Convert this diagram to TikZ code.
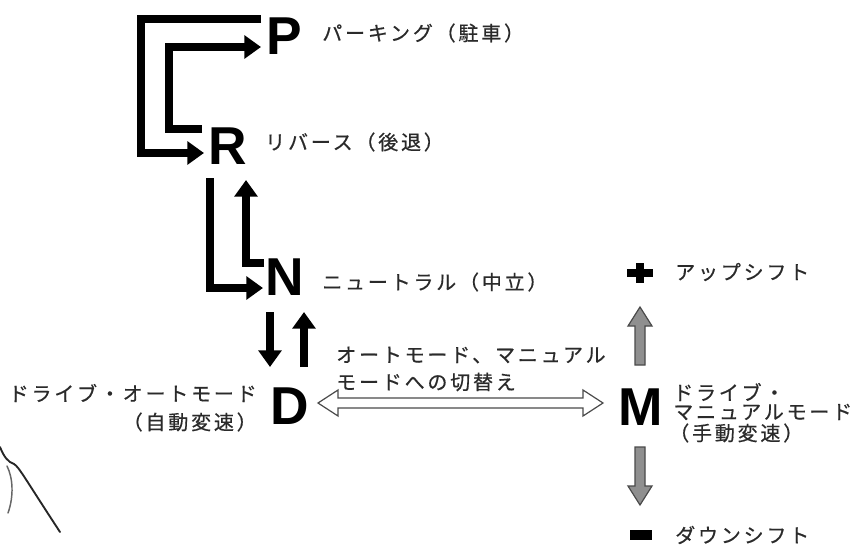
\documentclass[tikz,border=0pt]{standalone}
\usepackage{fontspec}
\setmainfont{Liberation Sans}
\newfontfamily\jp[LetterSpace=14,FakeBold=0.5]{Noto Sans CJK JP}
\usetikzlibrary{arrows.meta,calc}
\definecolor{lblcol}{HTML}{2A2A2A}
\definecolor{grayfill}{HTML}{8F8F8F}
\definecolor{grayedge}{HTML}{4A4A4A}
\begin{document}
\begin{tikzpicture}[x=0.75pt,y=-0.75pt,
  big/.style={font=\fontsize{40}{40}\selectfont\bfseries, inner sep=0pt},
  lbl/.style={font=\jp\fontsize{15}{18}\selectfont, inner sep=0pt, text=lblcol},
  blk/.style={line width=6pt, line join=miter, -{Triangle[length=12.5pt,width=17pt]}},
  hollow/.style={fill=white, draw=grayedge, line width=0.9pt, line join=miter},
  grayarr/.style={fill=grayfill, draw=grayedge, line width=0.9pt, line join=miter},
  sketch/.style={line width=1.4pt, draw=black!85, line cap=round}]
\useasboundingbox[fill=white] (0,0) rectangle (854,544);

% gear letters
\node[big] (P) at (284,36) {P};
\node[big] (R) at (228,146) {R};
\node[big] (N) at (285,277) {N};
\node[big] (D) at (290,406) {D};
\node[big] (M) at (641,407) {M};

% labels
\node[lbl, anchor=west] (lp) at (322,33) {パーキング（駐車）};
\node[lbl, anchor=west] (lr) at (265,142) {リバース（後退）};
\node[lbl, anchor=west] (ln) at (322,282) {ニュートラル（中立）};
\node[lbl, anchor=east] (ld1) at (257,393) {ドライブ・オートモード};
\node[lbl, anchor=east] (ld2) at (257,422) {（自動変速）};
\node[lbl, anchor=west] (ls1) at (336,355) {オートモード、マニュアル};
\node[lbl, anchor=west] (ls2) at (336,382) {モードへの切替え};
\node[lbl, anchor=west] (lup) at (675,272) {アップシフト};
\node[lbl, anchor=west] (lm1) at (673,392) {ドライブ・};
\node[lbl, anchor=west] (lm2) at (673,412) {マニュアルモード};
\node[lbl, anchor=west] (lm3) at (669,433) {（手動変速）};
\node[lbl, anchor=west] (ldn) at (675,535) {ダウンシフト};

% black shift arrows
\draw[blk] ($(P)+(-23,-17)$) -| ($(R)+(-87,7)$) -- ($(R)+(-24,7)$);
\draw[blk] ($(R)+(-26,-17)$) -| ($(P)+(-115,11)$) -- ($(P)+(-23,11)$);
\draw[blk] ($(R)+(-18,32)$) |- ($(N)+(-22,11)$);
\draw[blk] ($(N)+(-21,-14)$) -| ($(R)+(18,34)$);
\draw[blk] ($(N)+(-15,35)$) -- ($(D)+(-20,-39)$);
\draw[blk] ($(D)+(14,-39)$) -- ($(N)+(19,35)$);

% hollow double arrow D <-> M
\coordinate (ha) at ($(D)+(28,-3)$);
\coordinate (hb) at ($(M)+(-38,-4)$);
\draw[hollow] (ha) -- ($(ha)+(20,-13)$) -- ($(ha)+(20,-5)$) -- ($(hb)+(-20,-5)$)
  -- ($(hb)+(-20,-13)$) -- (hb) -- ($(hb)+(-20,13)$) -- ($(hb)+(-20,5)$)
  -- ($(ha)+(20,5)$) -- ($(ha)+(20,13)$) -- cycle;

% plus and minus
\coordinate (plus) at (640,273);
\fill ($(plus)+(-13,-4)$) rectangle ($(plus)+(13,4)$);
\fill ($(plus)+(-4,-10)$) rectangle ($(plus)+(4,10)$);
\coordinate (minus) at (641,535);
\fill ($(minus)+(-11,-5)$) rectangle ($(minus)+(11,5)$);

% gray up arrow M -> +
\coordinate (ut) at ($(M)+(-1,-100)$);
\coordinate (ub) at ($(M)+(-1,-42)$);
\draw[grayarr] (ut) -- ($(ut)+(12,19)$) -- ($(ut)+(5,19)$) -- ($(ub)+(5,0)$)
  -- ($(ub)+(-5,0)$) -- ($(ut)+(-5,19)$) -- ($(ut)+(-12,19)$) -- cycle;
% gray down arrow M -> -
\coordinate (dt) at ($(M)+(-1,98)$);
\coordinate (db) at ($(M)+(-1,40)$);
\draw[grayarr] (dt) -- ($(dt)+(12,-19)$) -- ($(dt)+(5,-19)$) -- ($(db)+(5,0)$)
  -- ($(db)+(-5,0)$) -- ($(dt)+(-5,-19)$) -- ($(dt)+(-12,-19)$) -- cycle;

% sketch lines bottom left
\draw[sketch] (0,447) .. controls (4,457) and (8,462) .. (14,464)
  .. controls (19,467) and (24,477) .. (60,532);
\draw[sketch, draw=black!60, line width=1.1pt] (7,466) .. controls (13,478) and (14,496) .. (8,513);
\end{tikzpicture}
\end{document}
